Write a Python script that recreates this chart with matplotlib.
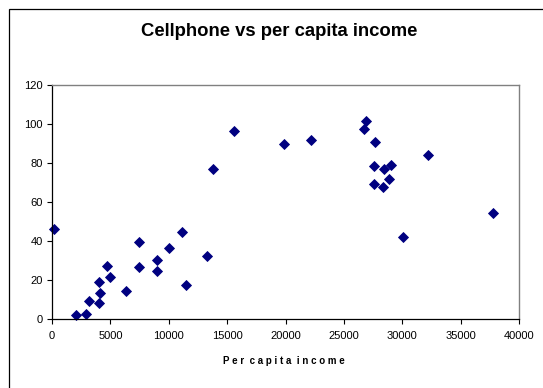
import matplotlib
matplotlib.use("Agg")
import matplotlib.pyplot as plt
from matplotlib.patches import Rectangle

plt.rcParams['font.family'] = ['Liberation Sans', 'DejaVu Sans']

income = [150, 2050, 2900, 3170, 4030, 4000, 4150, 4710, 4980, 6370,
          7470, 7470, 8980, 8980, 10040, 11170, 11470, 13240, 13810, 15590,
          19850, 22190, 26870, 26730, 27670, 27560, 27560, 28390, 28440, 28830,
          29010, 30040, 32240, 37780]
cellphone = [46.2, 1.9, 2.7, 9.1, 8.2, 19.2, 13.4, 27.4, 21.7, 14.2,
             39.7, 26.5, 30.1, 24.8, 36.5, 44.7, 17.5, 32.4, 76.9, 96.7,
             90.0, 91.8, 101.9, 97.4, 90.9, 78.6, 69.5, 67.8, 76.9, 71.9,
             79.3, 42.1, 84.4, 54.6]

x_ticks = [0, 5000, 10000, 15000, 20000, 25000, 30000, 35000, 40000]
y_ticks = [0, 20, 40, 60, 80, 100, 120]

fig = plt.figure(figsize=(5.43, 3.88), dpi=100)

# chart frame
fig.patches.append(Rectangle((8.5 / 543, -0.1), 1.2, 1 - 8.5 / 388 + 0.1,
                             transform=fig.transFigure, fill=False,
                             edgecolor='black', linewidth=0.9))

ax = fig.add_axes([52 / 543, 1 - 319 / 388, (519 - 52) / 543, (319 - 85.3) / 388])
ax.plot(income, cellphone, linestyle='none', marker='D', markersize=5.2,
        color='#000080', markeredgecolor='#000080', markeredgewidth=0.6,
        clip_on=False)

ax.set_xlim(0, 40000)
ax.set_ylim(0, 120)
ax.set_xticks(x_ticks)
ax.set_yticks(y_ticks)
ax.tick_params(direction='out', length=3.5, width=0.8, labelsize=8,
               colors='black', pad=3)
ax.tick_params(axis='x', pad=5)

for side in ('top', 'right'):
    ax.spines[side].set_color('#808080')
    ax.spines[side].set_linewidth(1.0)
for side in ('left', 'bottom'):
    ax.spines[side].set_color('black')
    ax.spines[side].set_linewidth(0.9)

fig.text(279 / 543, 1 - 32 / 388, 'Cellphone vs per capita income',
         ha='center', va='center', fontsize=13.3, fontweight='bold')
fig.text(284 / 543, 1 - 361 / 388, 'P e r  c a p i t a  i n c o m e',
         ha='center', va='center', fontsize=7, fontweight='bold')

fig.savefig('out.png', dpi=100)
